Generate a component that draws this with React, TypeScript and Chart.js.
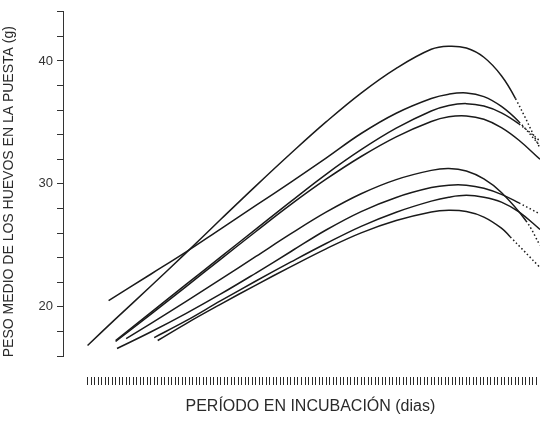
import React, { useEffect, useRef } from 'react';
import { Chart, registerables } from 'chart.js';

Chart.register(...registerables);

// Días de incubación (x) y peso medio de los huevos (g) para cada curva
const daysA = [7, 15, 25, 35, 45, 55, 65, 75, 85, 95, 105, 110, 115, 120, 125, 129, 136];
const weightA = [16.86, 19.02, 21.67, 24.37, 27.12, 29.84, 32.49, 35.04, 37.39, 39.4, 40.95, 41.2, 41.05, 40.3, 38.8, 36.95, 32.9];

const daysB = [13, 25, 35, 45, 55, 65, 75, 85, 95, 105, 110, 115, 120, 125, 130, 136];
const weightB = [20.5, 22.65, 24.45, 26.35, 28.25, 30.15, 32.1, 34.1, 35.75, 36.95, 37.3, 37.4, 37.1, 36.3, 35.05, 33.1];

const daysC = [15, 25, 35, 45, 55, 65, 75, 85, 95, 105, 110, 115, 120, 125, 130, 136];
const weightC = [17.26, 19.53, 21.8, 24.06, 26.32, 28.58, 30.78, 32.78, 34.53, 35.93, 36.38, 36.53, 36.33, 35.78, 34.88, 33.5];

const daysD = [15, 25, 35, 45, 55, 65, 75, 85, 95, 105, 110, 115, 120, 125, 130, 136];
const weightD = [17.18, 19.38, 21.63, 23.88, 26.13, 28.33, 30.38, 32.23, 33.83, 35.08, 35.46, 35.53, 35.26, 34.58, 33.55, 32.0];

const daysE = [18, 25, 35, 45, 55, 65, 75, 85, 95, 105, 110, 115, 120, 125, 132, 136];
const weightE = [17.42, 18.64, 20.42, 22.25, 24.1, 25.95, 27.7, 29.2, 30.35, 31.1, 31.25, 31.05, 30.4, 29.3, 27.0, 25.0];

const daysF = [15.4, 25, 35, 45, 55, 65, 75, 85, 95, 105, 110, 115, 120, 125, 130, 136];
const weightF = [16.61, 17.95, 19.45, 21.05, 22.75, 24.5, 26.25, 27.75, 28.9, 29.7, 29.9, 29.9, 29.65, 29.15, 28.45, 27.55];

const daysG = [26, 35, 45, 55, 65, 75, 85, 95, 105, 110, 115, 120, 125, 130, 136];
const weightG = [17.5, 18.85, 20.5, 22.1, 23.65, 25.15, 26.55, 27.7, 28.6, 28.92, 29.07, 28.92, 28.52, 27.72, 26.3];

const daysH = [27, 35, 45, 55, 65, 75, 85, 95, 105, 110, 115, 120, 125, 127.5, 136];
const weightH = [17.26, 18.62, 20.22, 21.77, 23.27, 24.72, 26.02, 27.02, 27.72, 27.85, 27.75, 27.3, 26.4, 25.7, 23.2];

// index of the first dotted segment (null = fully solid)
const dottedFrom = [15, 14, 14, null, 14, 14, null, 13];

const yTickLabels = [20, 30, 40];
const yTitle = 'PESO MEDIO DE LOS HUEVOS EN LA PUESTA (g)';
const xTitle = 'PERÍODO EN INCUBACIÓN (dias)';

const allDays = [daysA, daysB, daysC, daysD, daysE, daysF, daysG, daysH];
const allWeights = [weightA, weightB, weightC, weightD, weightE, weightF, weightG, weightH];

const FONT = "'Liberation Sans', Arial, Helvetica, sans-serif";
const INK = '#1a1a1a';

export default function App() {
  const ref = useRef<HTMLCanvasElement>(null);

  useEffect(() => {
    document.body.style.margin = '0';
    const canvas = ref.current;
    if (!canvas) return;

    const datasets = allDays.map((days, si) => {
      const w = allWeights[si];
      const df = dottedFrom[si];
      return {
        data: days.map((d, i) => ({ x: d, y: w[i] })),
        borderColor: INK,
        borderWidth: 1.5,
        pointRadius: 0,
        fill: false,
        tension: 0.4,
        segment: {
          borderDash: (ctx: any) => (df !== null && ctx.p0DataIndex >= df ? [1.5, 2.5] : undefined),
        },
      };
    });

    const chart = new Chart(canvas, {
      type: 'line',
      data: { datasets },
      options: {
        animation: false,
        responsive: false,
        devicePixelRatio: 1,
        layout: { padding: { top: 9, right: 0, bottom: 0, left: 0 } },
        plugins: { legend: { display: false }, tooltip: { enabled: false } },
        scales: {
          x: {
            type: 'linear',
            min: 0,
            max: 136,
            border: { display: false },
            grid: {
              drawOnChartArea: false,
              drawTicks: true,
              tickLength: 30,
              tickWidth: 1,
              tickColor: '#2a2a2a',
              tickBorderDash: [0, 21, 8, 100],
            },
            ticks: { display: false, stepSize: 1 },
            afterBuildTicks: (scale: any) => {
              scale.ticks = scale.ticks.filter((t: any) => t.value >= 7);
            },
            afterFit: (scale: any) => {
              scale.height = 68;
            },
            title: {
              display: true,
              text: '    ' + xTitle,
              color: '#2a2a2a',
              font: { family: FONT, size: 16 },
              padding: { top: 0, bottom: 8 },
            },
          },
          y: {
            type: 'linear',
            min: 16,
            max: 44,
            border: { display: true, color: '#333', width: 1 },
            grid: {
              drawOnChartArea: false,
              drawTicks: true,
              tickLength: 6,
              tickColor: '#333',
            },
            ticks: {
              stepSize: 2,
              padding: 4,
              autoSkip: false,
              color: '#333',
              font: { family: FONT, size: 13 },
              callback: (v: any) => (yTickLabels.includes(Number(v)) ? String(v) : ''),
            },
            afterFit: (scale: any) => {
              scale.width = 63;
            },
            title: {
              display: true,
              text: yTitle + '    ',
              color: '#2a2a2a',
              font: { family: FONT, size: 14 },
              padding: { top: 1, bottom: 0 },
            },
          },
        },
      },
    } as any);

    return () => chart.destroy();
  }, []);

  return (
    <div style={{ width: 540, height: 424 }}>
      <canvas ref={ref} width={540} height={424} style={{ display: 'block' }} />
    </div>
  );
}
